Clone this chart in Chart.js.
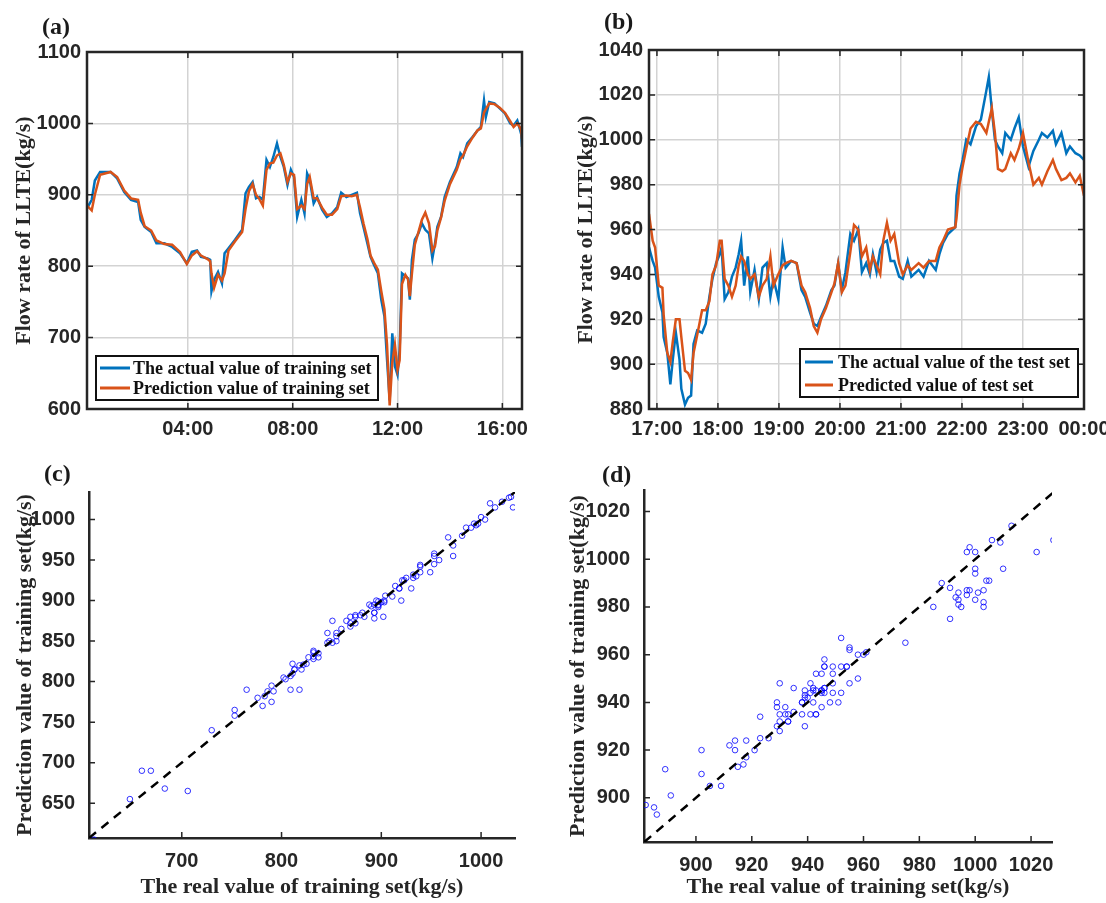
<!DOCTYPE html>
<html lang="en">
<head>
<meta charset="UTF-8">
<title>LLTE flow rate: training and test prediction</title>
<script src="https://cdn.jsdelivr.net/npm/chart.js"></script>
<style>
  body { margin: 0; background: #fff; width: 1106px; height: 903px; position: relative; overflow: hidden; }
  canvas { position: absolute; }
  .tag { position: absolute; font: bold 24px "Liberation Serif", "Times New Roman", serif; color: #1a1a1a; line-height: 1; }
</style>
</head>
<body>
<canvas id="chartA" width="553" height="451" style="left:0;top:0"></canvas>
<canvas id="chartB" width="553" height="451" style="left:553px;top:0"></canvas>
<canvas id="chartC" width="553" height="452" style="left:0;top:451px"></canvas>
<canvas id="chartD" width="553" height="452" style="left:553px;top:451px"></canvas>
<div class="tag" style="left:42px;top:14px">(a)</div>
<div class="tag" style="left:604px;top:9px">(b)</div>
<div class="tag" style="left:44px;top:461px">(c)</div>
<div class="tag" style="left:602px;top:462px">(d)</div>

<script>
// training set (hours since 00:00)
const trainHours = [
  0.15, 0.33, 0.45, 0.65, 1.05, 1.3, 1.57, 1.83, 2.1, 2.2,
  2.35, 2.6, 2.8, 3.1, 3.4, 3.7, 3.96, 4.15, 4.35, 4.5,
  4.75, 4.85, 4.9, 5.0, 5.15, 5.3, 5.4, 5.55, 5.8, 6.07,
  6.2, 6.33, 6.47, 6.6, 6.73, 6.86, 7.0, 7.13, 7.26, 7.4,
  7.53, 7.66, 7.8, 7.93, 8.05, 8.17, 8.33, 8.45, 8.55, 8.65,
  8.8, 8.93, 9.12, 9.3, 9.5, 9.7, 9.85, 10.05, 10.25, 10.45,
  10.57, 10.7, 10.85, 10.97, 11.1, 11.25, 11.38, 11.5, 11.6, 11.7,
  11.8, 11.9, 12.0, 12.08, 12.17, 12.3, 12.4, 12.47, 12.55, 12.66,
  12.8, 12.93, 13.06, 13.2, 13.33, 13.43, 13.52, 13.66, 13.8, 14.0,
  14.26, 14.4, 14.5, 14.66, 14.86, 15.05, 15.18, 15.3, 15.37, 15.5,
  15.7, 15.9, 16.1, 16.3, 16.43, 16.57, 16.66, 16.72, 16.75
];
const trainActual = [
  881, 893, 920, 932, 932, 923, 904, 893, 890, 865,
  855, 848, 832, 832, 827, 818, 804, 820, 822, 813,
  811, 809, 765, 781, 792, 776, 818, 825, 837, 851,
  902, 911, 918, 895, 897, 893, 949, 939, 953, 972,
  953, 939, 914, 935, 925, 869, 893, 874, 930, 921,
  888, 897, 879, 869, 874, 883, 903, 897, 900, 903,
  874, 855, 832, 813, 802, 790, 753, 730, 669, 612,
  706, 660, 648, 683, 790, 786, 783, 753, 809, 837,
  846, 860, 851, 846, 811, 832, 855, 869, 897, 918,
  939, 958, 953, 972, 981, 990, 995, 1032, 1009, 1030,
  1028, 1021, 1014, 1000, 997, 1004, 993, 985, 967
];
const trainPredicted = [
  885, 878, 900, 928, 932, 925, 906, 895, 893, 875,
  856, 850, 836, 831, 830, 820, 803, 815, 821, 815,
  810, 807, 790, 770, 788, 780, 790, 822, 835, 848,
  880, 905, 915, 900, 894, 885, 935, 944, 945, 955,
  958, 942, 918, 930, 928, 880, 885, 880, 915, 925,
  895, 895, 882, 872, 872, 880, 898, 899, 898, 900,
  882, 860, 838, 815, 805, 795, 765, 740, 690, 605,
  665, 690, 655, 668, 775, 788, 782, 758, 790, 830,
  848, 865, 875, 860, 822, 828, 850, 868, 892, 915,
  935, 950, 955, 968, 980, 990, 993, 1015, 1020, 1028,
  1027, 1022, 1015, 1003, 995, 1000, 995, 990, 978
];

// test set (hours, 24 = midnight)
const testHours = [
  16.87, 16.93, 16.97, 17.03, 17.09, 17.11, 17.17, 17.22, 17.26, 17.31,
  17.37, 17.4, 17.46, 17.51, 17.56, 17.6, 17.66, 17.74, 17.8, 17.86,
  17.91, 17.97, 18.03, 18.06, 18.11, 18.17, 18.23, 18.29, 18.34, 18.38,
  18.43, 18.49, 18.53, 18.6, 18.67, 18.73, 18.8, 18.86, 18.91, 18.99,
  19.06, 19.11, 19.2, 19.29, 19.37, 19.43, 19.51, 19.57, 19.63, 19.69,
  19.77, 19.86, 19.91, 19.97, 20.03, 20.09, 20.17, 20.23, 20.3, 20.36,
  20.43, 20.49, 20.54, 20.6, 20.66, 20.71, 20.77, 20.83, 20.89, 20.97,
  21.03, 21.11, 21.17, 21.29, 21.37, 21.46, 21.57, 21.63, 21.69, 21.77,
  21.89, 21.91, 21.96, 22.01, 22.07, 22.14, 22.23, 22.31, 22.4, 22.44,
  22.49, 22.54, 22.59, 22.66, 22.71, 22.8, 22.86, 22.93, 23.0, 23.09,
  23.17, 23.26, 23.31, 23.4, 23.49, 23.54, 23.63, 23.71, 23.77, 23.86,
  23.93, 24.0
];
const testActual = [
  952, 946, 943, 930, 923, 912, 905, 891, 902, 914,
  902, 889, 882, 885, 886, 909, 915, 914, 918, 930,
  938, 945, 949, 952, 929, 932, 939, 943, 949, 955,
  935, 948, 932, 942, 929, 943, 945, 930, 938, 929,
  952, 943, 946, 945, 933, 930, 923, 918, 917, 921,
  926, 933, 935, 945, 933, 941, 958, 955, 960, 941,
  945, 940, 949, 941, 951, 954, 955, 946, 946, 939,
  938, 946, 939, 942, 939, 946, 942, 949, 954, 958,
  961, 975, 985, 991, 1000, 998, 1006, 1009, 1022, 1028,
  1013, 1000, 997, 994, 1003, 1000, 1005, 1010, 997, 988,
  995, 1000, 1003, 1001, 1004, 998, 1003, 994, 997, 994,
  993, 991
];
const testPredicted = [
  967, 955, 952, 935, 934, 922, 905, 901, 910, 920,
  920, 912, 897, 896, 893, 905, 913, 924, 924, 928,
  940, 944, 955, 955, 938, 935, 930, 935, 944, 948,
  946, 940, 938, 940, 930, 935, 938, 948, 935, 940,
  944, 945, 946, 945, 935, 932, 925, 917, 914, 920,
  925, 932, 936, 945, 932, 935, 950, 962, 960, 948,
  952, 942, 948, 944, 940, 955, 963, 955, 958, 945,
  940, 944, 942, 945, 943, 946, 946, 952, 955, 960,
  961, 965, 980, 988, 996, 1005, 1008, 1007, 1003, 1008,
  1014, 1003, 987, 986, 987, 994, 991, 996, 1003, 990,
  980, 983, 980, 986, 991, 987, 982, 983, 985, 981,
  984, 975
];

const trainTimeTicks = [4, 8, 12, 16];
const testTimeTicks = [17, 18, 19, 20, 21, 22, 23, 24];
const trainFlowTicks = [600, 700, 800, 900, 1000, 1100];
const testFlowTicks = [880, 900, 920, 940, 960, 980, 1000, 1020, 1040];
const trainRealTicks = [700, 800, 900, 1000];
const trainPredTicks = [650, 700, 750, 800, 850, 900, 950, 1000];
const testScatterTicks = [900, 920, 940, 960, 980, 1000, 1020];
const trainDiagonal = [607, 1034];
const testDiagonal = [881.5, 1028];

const BLUE = 'rgb(0,114,189)';
const ORANGE = 'rgb(217,83,25)';
const INK = '#262626';
const tickFont = { family: '"Liberation Sans", Arial, sans-serif', size: 20, weight: 'bold' };
const titleFont = { family: '"Liberation Serif", "Times New Roman", serif', size: 22, weight: 'bold' };

function hhmm(v) {
  return String(v % 24).padStart(2, '0') + ':00';
}

function plain(v) {
  return String(v);
}

function fixedTicks(list) {
  return function (scale) {
    scale.ticks = list.map(v => ({ value: v }));
  };
}

// inward tick marks, optional box frame and a legend box inside the plot
const frame = {
  id: 'frame',
  afterDraw(chart, args, opts) {
    const { ctx, chartArea: a, scales } = chart;
    const t = 6;
    ctx.save();
    ctx.strokeStyle = INK;
    ctx.lineWidth = 1.5;
    ctx.beginPath();
    scales.x.ticks.forEach(tk => {
      const px = scales.x.getPixelForValue(tk.value);
      ctx.moveTo(px, a.bottom); ctx.lineTo(px, a.bottom - t);
      if (opts.box) { ctx.moveTo(px, a.top); ctx.lineTo(px, a.top + t); }
    });
    scales.y.ticks.forEach(tk => {
      const py = scales.y.getPixelForValue(tk.value);
      ctx.moveTo(a.left, py); ctx.lineTo(a.left + t, py);
      if (opts.box) { ctx.moveTo(a.right, py); ctx.lineTo(a.right - t, py); }
    });
    ctx.stroke();
    if (opts.box) {
      ctx.lineWidth = 2.5;
      ctx.strokeRect(a.left, a.top, a.width, a.height);
    }
    const lg = opts.legend;
    if (lg) {
      ctx.fillStyle = '#fff';
      ctx.fillRect(lg.x, lg.y, lg.w, lg.h);
      ctx.lineWidth = 2;
      ctx.strokeStyle = '#111';
      ctx.strokeRect(lg.x, lg.y, lg.w, lg.h);
      ctx.font = 'bold 18px "Liberation Serif", "Times New Roman", serif';
      ctx.textBaseline = 'middle';
      ctx.fillStyle = '#111';
      chart.data.datasets.forEach((ds, i) => {
        const yy = lg.y + lg.rows[i];
        ctx.strokeStyle = ds.borderColor;
        ctx.lineWidth = 3;
        ctx.beginPath();
        ctx.moveTo(lg.x + lg.line[0], yy);
        ctx.lineTo(lg.x + lg.line[1], yy);
        ctx.stroke();
        ctx.fillText(ds.label, lg.x + lg.text, yy + 1);
      });
    }
    ctx.restore();
  }
};

function seriesChart(id, o) {
  return new Chart(document.getElementById(id), {
    type: 'line',
    data: {
      datasets: [
        {
          label: o.labels[0],
          data: o.hours.map((h, i) => ({ x: h, y: o.actual[i] })),
          borderColor: BLUE, borderWidth: 2.5, pointRadius: 0, tension: 0, order: 1
        },
        {
          label: o.labels[1],
          data: o.hours.map((h, i) => ({ x: h, y: o.predicted[i] })),
          borderColor: ORANGE, borderWidth: 2.5, pointRadius: 0, tension: 0, order: 0
        }
      ]
    },
    options: {
      responsive: false,
      animation: false,
      devicePixelRatio: 1,
      layout: { padding: { top: o.pad[0], right: o.pad[1], bottom: 0, left: 0 } },
      plugins: {
        legend: { display: false },
        tooltip: { enabled: false },
        frame: { box: true, legend: o.legend }
      },
      scales: {
        x: {
          type: 'linear',
          min: o.xRange[0], max: o.xRange[1],
          afterBuildTicks: fixedTicks(o.xTicks),
          afterFit: s => { s.height = o.xHeight; s.paddingLeft = 0; s.paddingRight = 0; },
          ticks: { callback: v => hhmm(v), font: tickFont, color: INK, padding: 8, maxRotation: 0, autoSkip: false },
          grid: { color: '#d3d3d3', lineWidth: 1.5, drawTicks: false },
          border: { display: false }
        },
        y: {
          min: o.yTicks[0], max: o.yTicks[o.yTicks.length - 1],
          afterBuildTicks: fixedTicks(o.yTicks),
          afterFit: s => { s.width = o.yWidth; s.paddingTop = 0; s.paddingBottom = 0; },
          ticks: { callback: plain, font: tickFont, color: INK, padding: 6 },
          grid: { color: '#d3d3d3', lineWidth: 1.5, drawTicks: false },
          border: { display: false },
          title: { display: true, text: 'Flow rate of LLTE(kg/s)', font: titleFont, color: INK, padding: { top: o.titlePad, bottom: 0 } }
        }
      }
    },
    plugins: [frame]
  });
}

function scatterChart(id, o) {
  return new Chart(document.getElementById(id), {
    type: 'scatter',
    data: {
      datasets: [
        {
          type: 'line',
          data: o.diagonal.map(v => ({ x: v, y: v })),
          borderColor: '#000', borderWidth: 2.5, borderDash: [9, 7], pointRadius: 0, order: 0
        },
        {
          data: o.real.map((v, i) => ({ x: v, y: o.predicted[i] })),
          pointStyle: 'circle', pointRadius: 2.8, borderWidth: 1,
          borderColor: 'rgba(0,0,255,0.8)', backgroundColor: 'rgba(0,0,0,0)', order: 1
        }
      ]
    },
    options: {
      responsive: false,
      animation: false,
      devicePixelRatio: 1,
      layout: { padding: { top: o.pad[0], right: o.pad[1], bottom: 0, left: 0 } },
      plugins: {
        legend: { display: false },
        tooltip: { enabled: false },
        frame: { box: false }
      },
      scales: {
        x: {
          type: 'linear',
          min: o.xRange[0], max: o.xRange[1],
          afterBuildTicks: fixedTicks(o.xTicks),
          afterFit: s => { s.height = o.xHeight; s.paddingLeft = 0; s.paddingRight = 0; },
          ticks: { callback: plain, font: tickFont, color: INK, padding: 3, maxRotation: 0, autoSkip: false },
          grid: { display: false },
          border: { color: INK, width: 2.5 },
          title: { display: true, text: 'The real value of training set(kg/s)', font: titleFont, color: INK, padding: { top: 0, bottom: 2 } }
        },
        y: {
          type: 'linear',
          min: o.yRange[0], max: o.yRange[1],
          afterBuildTicks: fixedTicks(o.yTicks),
          afterFit: s => { s.width = o.yWidth; s.paddingTop = 0; s.paddingBottom = 0; },
          ticks: { callback: plain, font: tickFont, color: INK, padding: 6 },
          grid: { display: false },
          border: { color: INK, width: 2.5 },
          title: { display: true, text: 'Prediction value of training set(kg/s)', font: titleFont, color: INK, padding: { top: 12, bottom: 0 } }
        }
      }
    },
    plugins: [frame]
  });
}

seriesChart('chartA', {
  hours: trainHours, actual: trainActual, predicted: trainPredicted,
  labels: ['The actual value of training set', 'Prediction value of training set'],
  xRange: [0.15, 16.75], xTicks: trainTimeTicks, yTicks: trainFlowTicks,
  pad: [52, 31], yWidth: 87, xHeight: 42, titlePad: 11,
  legend: { x: 96, y: 356, w: 282, h: 44, rows: [12, 32], line: [4, 34], text: 37 }
});

seriesChart('chartB', {
  hours: testHours, actual: testActual, predicted: testPredicted,
  labels: ['The actual value of the test set', 'Predicted value of test set'],
  xRange: [16.87, 24], xTicks: testTimeTicks, yTicks: testFlowTicks,
  pad: [50, 22], yWidth: 96, xHeight: 42, titlePad: 20,
  legend: { x: 247, y: 349, w: 278, h: 48, rows: [13, 36], line: [5, 33], text: 38 }
});

scatterChart('chartC', {
  real: trainActual, predicted: trainPredicted, diagonal: trainDiagonal,
  xRange: [607, 1034], yRange: [607, 1034], xTicks: trainRealTicks, yTicks: trainPredTicks,
  pad: [41, 38], yWidth: 89, xHeight: 65
});

scatterChart('chartD', {
  real: testActual, predicted: testPredicted, diagonal: testDiagonal,
  xRange: [881.4, 1027.5], yRange: [881.5, 1029], xTicks: testScatterTicks, yTicks: testScatterTicks,
  pad: [39, 54], yWidth: 91, xHeight: 61
});
</script>
</body>
</html>
